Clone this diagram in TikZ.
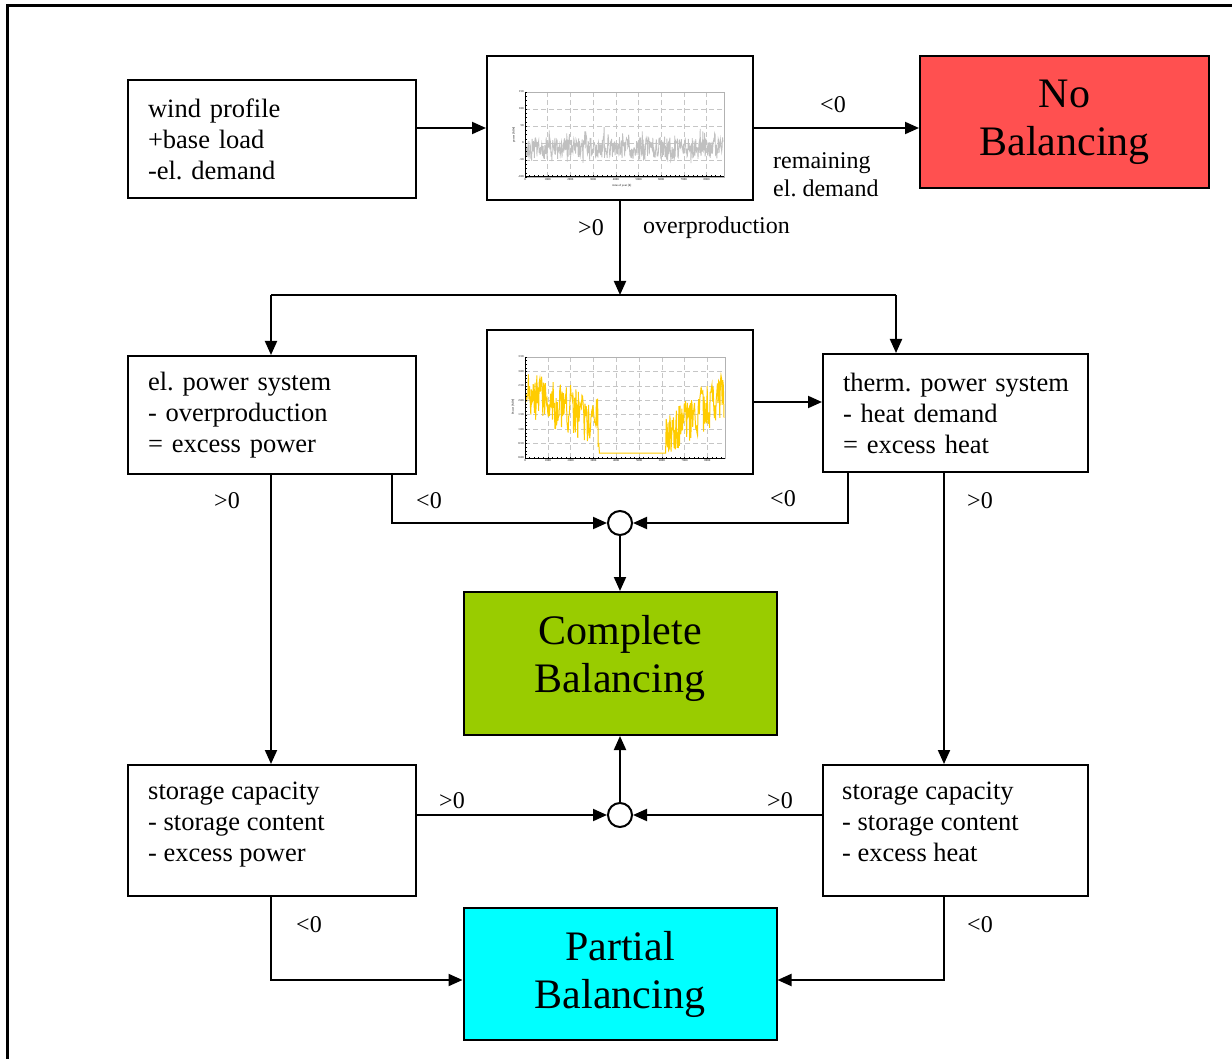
\documentclass[tikz,border=0pt]{standalone}
\usepackage{fontspec}
\setmainfont{Liberation Serif}
\frenchspacing
\usetikzlibrary{arrows.meta,calc}
\definecolor{nobred}{RGB}{255,80,80}
\definecolor{compgreen}{RGB}{153,204,0}
\definecolor{partcyan}{RGB}{0,255,255}
\definecolor{chartgray}{RGB}{192,192,192}
\definecolor{chartyellow}{RGB}{255,204,0}
\begin{document}
\frenchspacing
\begin{tikzpicture}[x=1pt,y=-1pt,
  box/.style={draw,line width=2pt,inner ysep=0pt,inner xsep=20pt,align=left,
    font=\fontsize{26.5}{31}\selectfont},
  wbox/.style={box,text width=248pt,minimum height=#1},
  nbox/.style={box,text width=225pt,minimum height=#1},
  boxtxt/.style={inner sep=0pt,align=left,font=\fontsize{26.5}{31}\selectfont},
  bigbox/.style={draw,line width=2pt,inner sep=0pt,align=center,minimum width=313pt,
    font=\fontsize{42}{48}\selectfont},
  bigtxt/.style={inner sep=0pt,align=center,font=\fontsize{42}{48}\selectfont},
  chartbox/.style={draw,line width=2pt,fill=white,minimum width=266pt,minimum height=144pt,inner sep=0pt},
  junc/.style={draw,circle,line width=2pt,fill=white,minimum size=24pt,inner sep=0pt},
  arr/.style={line width=2pt,-{Triangle[length=14pt,width=12pt]}},
  conn/.style={line width=2pt},
  lbl/.style={font=\fontsize{24}{28}\selectfont,inner sep=0pt},
  tiny/.style={font=\fontsize{3}{3.5}\selectfont,inner sep=0.3pt},
  gridline/.style={gray!45,line width=0.6pt,dash pattern=on 5pt off 3pt},
]
\useasboundingbox (0,0) rectangle (1232,1059);
% outer frame
\draw[line width=3pt] (7,1065) -- (7,6) -- (1240,6);

% nodes
\node[wbox=118pt] (wind) at (272,139) {wind profile\\+base load\\-el. demand};
\node[chartbox] (c1) at (620,128) {};
\node[bigbox,fill=nobred,minimum width=289pt,minimum height=132pt] (nob) at (1064.5,122) {No\\Balancing};
\node[wbox=118pt] (elp) at (272,415) {el. power system\\- overproduction\\= excess power};
\node[chartbox] (c2) at (620,402) {};
\node[nbox=118pt] (thp) at (955.5,413) {\mbox{therm. power system}\\- heat demand\\= excess heat};
\node[bigbox,fill=compgreen,minimum height=143pt,
  label={[bigtxt,yshift=5pt]center:Complete\\Balancing}] (comp) at (620,663.5) {};
\node[draw,line width=2pt,minimum width=288pt,minimum height=131pt,
  label={[boxtxt,anchor=west,xshift=21pt,yshift=5.5pt]west:storage capacity\\- storage content\\- excess power}] (stl) at (272,830.5) {};
\node[draw,line width=2pt,minimum width=265pt,minimum height=131pt,
  label={[boxtxt,anchor=west,xshift=20pt,yshift=8.5pt]west:storage capacity\\- storage content\\- excess heat}] (str) at (955.5,830.5) {};
\node[bigbox,fill=partcyan,minimum height=132pt] (part) at (620,974) {Partial\\Balancing};
\node[junc] (j1) at (620,523) {};
\node[junc] (j2) at (620,815) {};

% ---------- chart 1 ----------
\draw[gridline] foreach \k in {1,...,8} {(525+22.7*\k,92) -- (525+22.7*\k,177)};
\draw[gridline] foreach \k in {1,...,4} {(525,92+17*\k) -- (724,92+17*\k)};
\draw[gray!60,line width=0.8pt] (525,92) rectangle (724,177);
\pgfmathsetseed{7}
\draw[chartgray,line width=0.8pt] plot[domain=526:723,samples=450] (\x,{148+11*rand-14*pow(rnd,8)+8*pow(rnd,10)});
\draw[line width=1pt] (525,92) -- (525,177) -- (724,177);
\draw[line width=0.4pt] foreach \k in {0,...,43} {(525+\k*4.54,177) -- (525+\k*4.54,175.5)};
\draw[line width=0.4pt] foreach \k in {0,...,20} {(525,92+\k*4.25) -- (526.5,92+\k*4.25)};
\foreach \v [count=\i from 0] in {150,100,50,0,-50,-100}
  \node[tiny,anchor=east] at (524,92+17*\i) {\v};
\foreach \v [count=\i from 0] in {0,1000,2000,3000,4000,5000,6000,7000,8000}
  \node[tiny,anchor=north] at (525+22.7*\i,178.5) {\v};
\node[tiny] at (622,186) {time of year [h]};
\node[tiny,rotate=90] at (514,135) {power [MW]};

% ---------- chart 2 ----------
\draw[gridline] foreach \k in {1,...,8} {(525+22.8*\k,357) -- (525+22.8*\k,458)};
\draw[gridline] foreach \k in {1,...,6} {(525,357+14.43*\k) -- (725,357+14.43*\k)};
\draw[gray!60,line width=0.8pt] (525,357) rectangle (725,458);
\pgfmathsetseed{11}
\draw[chartyellow,line width=1pt] plot[domain=526:724,samples=330]
  (\x,{max(368,min(453,(\x<599) ? (392+34*(\x-526)/73+24*rand-14*pow(rnd,8)) : ((\x<666) ? 453 : (436-40*(\x-666)/58+22*rand-14*pow(rnd,8)))))});
\draw[line width=1pt] (525,357) -- (525,458) -- (725,458);
\draw[line width=0.4pt] foreach \k in {0,...,43} {(525+\k*4.56,458) -- (525+\k*4.56,456.5)};
\draw[line width=0.4pt] foreach \k in {0,...,28} {(525,357+\k*3.607) -- (526.5,357+\k*3.607)};
\foreach \v [count=\i from 0] in {3.50,3.00,2.50,2.00,1.50,1.00,0.50,0.00}
  \node[tiny,anchor=east] at (524,357+14.43*\i) {\v};
\foreach \v [count=\i from 0] in {0,1000,2000,3000,4000,5000,6000,7000,8000}
  \node[tiny,anchor=north] at (525+22.8*\i,459.5) {\v};
\node[tiny,rotate=90] at (513,407) {Power [MW]};

% ---------- connectors ----------
\coordinate (jm) at (620,295);
\coordinate (jl) at (271,295);
\coordinate (jr) at (896,295);
\coordinate (eA) at (392,0);
\coordinate (tA) at (848,0);
\coordinate (tB) at (944,0);
\coordinate (pY) at (0,980);

\draw[arr] (wind.east |- c1) -- (c1.west);
\draw[arr] (c1.east) -- (nob.west |- c1);
\draw[arr] (c1.south) -- (jm);
\draw[conn] (jl) -- (jr);
\draw[arr] (jl) -- (jl |- elp.north);
\draw[arr] (jr) -- (jr |- thp.north);
\draw[arr] (c2.east) -- (thp.west |- c2);
\draw[arr] (jl |- elp.south) -- (jl |- stl.north);
\draw[arr] (elp.south -| eA) |- (j1);
\draw[arr] (thp.south -| tA) |- (j1);
\draw[arr] (thp.south -| tB) -- (str.north -| tB);
\draw[arr] (j1) -- (comp.north);
\draw[arr] (j2) -- (comp.south);
\draw[arr] (stl.east |- j2) -- (j2);
\draw[arr] (str.west |- j2) -- (j2);
\draw[arr] (jl |- stl.south) |- (part.west |- pY);
\draw[arr] (str.south -| tB) |- (part.east |- pY);

% ---------- labels ----------
\node[lbl] at (833,105) {<0};
\node[lbl,anchor=west,align=left] at (773,175) {remaining\\el. demand};
\node[lbl] at (591,228) {>0};
\node[lbl,anchor=west] at (643,228) {overproduction};
\node[lbl] at (227,501) {>0};
\node[lbl] at (429,501) {<0};
\node[lbl] at (783,499) {<0};
\node[lbl] at (980,501) {>0};
\node[lbl] at (452,801) {>0};
\node[lbl] at (780,801) {>0};
\node[lbl] at (309,925) {<0};
\node[lbl] at (980,925) {<0};
\end{tikzpicture}
\end{document}
